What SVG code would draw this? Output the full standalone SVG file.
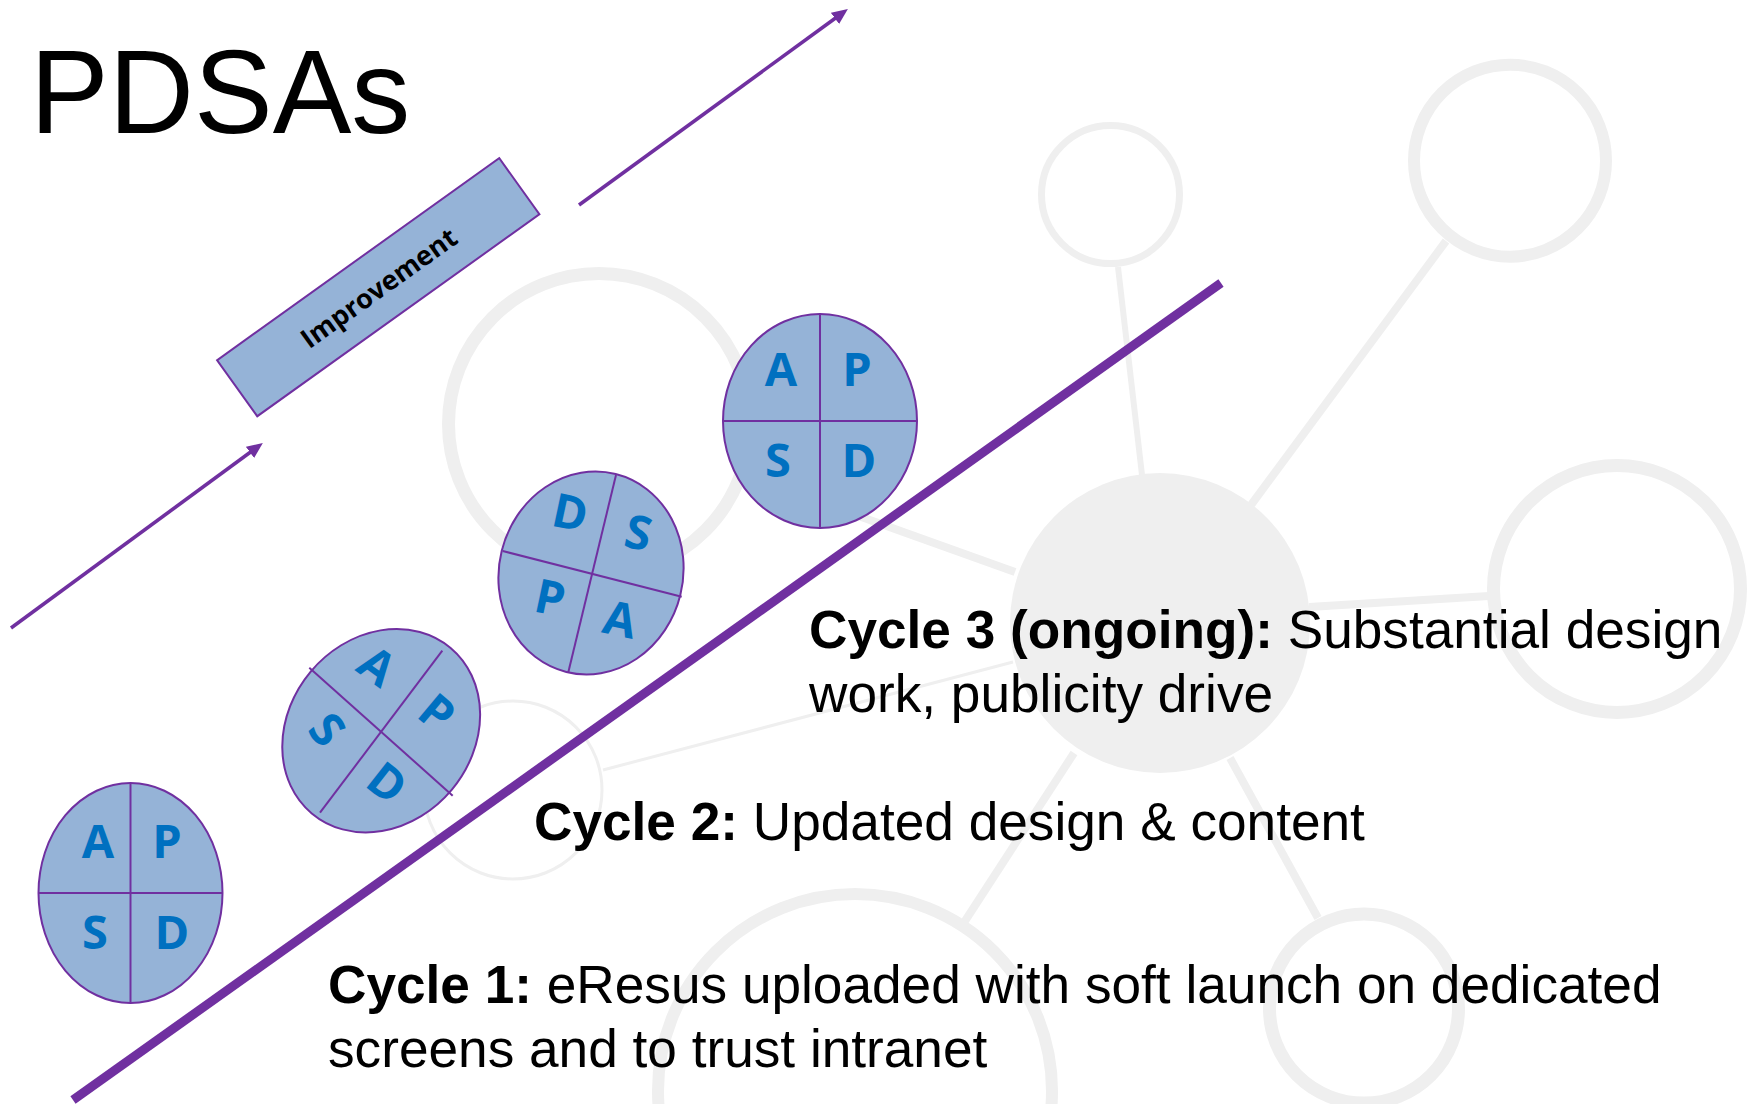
<svg xmlns="http://www.w3.org/2000/svg" width="1756" height="1104" viewBox="0 0 1756 1104">
<style>
.bgr{fill:none;stroke:#EFEFEF}
.bgl{stroke:#EFEFEF}
.pdsa{fill:#95B3D7;stroke:#7030A0;stroke-width:2}
.div{stroke:#7030A0;stroke-width:2}
.ltr{font-family:"Open Sans","Liberation Sans",sans-serif;font-weight:700;font-size:47px;fill:#0070C0;text-anchor:middle}
.cyc{font-family:"Liberation Sans",Arial,sans-serif;font-size:53.2px;fill:#000}
.arr{stroke:#7030A0;stroke-width:3.6;fill:none}
</style>
<defs>
<marker id="ah" markerUnits="userSpaceOnUse" markerWidth="18" markerHeight="16" refX="5" refY="7" orient="auto">
<path d="M0,0 L16,7 L0,14 z" fill="#7030A0"/>
</marker>
</defs>
<rect width="1756" height="1104" fill="#fff"/>
<g id="background">
<line class="bgl" x1="1118" y1="267" x2="1142" y2="475" stroke-width="6"/>
<line class="bgl" x1="1446" y1="241" x2="1251" y2="505" stroke-width="8"/>
<line class="bgl" x1="1309" y1="607" x2="1489" y2="596" stroke-width="8"/>
<line class="bgl" x1="747" y1="476" x2="1015" y2="572" stroke-width="8"/>
<line class="bgl" x1="603" y1="770" x2="1013" y2="662" stroke-width="3"/>
<line class="bgl" x1="1074" y1="753" x2="965" y2="921" stroke-width="8"/>
<line class="bgl" x1="1230" y1="758" x2="1318" y2="918" stroke-width="8"/>
<circle cx="1160" cy="623" r="150" fill="#EFEFEF"/>
<circle class="bgr" cx="599" cy="424" r="150.5" stroke-width="13"/>
<circle class="bgr" cx="1110.5" cy="194.6" r="69" stroke-width="7"/>
<circle class="bgr" cx="1510" cy="160.7" r="96" stroke-width="12"/>
<circle class="bgr" cx="1617" cy="589" r="123.5" stroke-width="13"/>
<circle class="bgr" cx="855" cy="1091" r="197" stroke-width="12"/>
<circle class="bgr" cx="1364" cy="1008.6" r="94.5" stroke-width="13"/>
<circle class="bgr" cx="513" cy="790" r="89" stroke-width="3"/>
</g>
<text id="title" x="30" y="133" font-family="Liberation Sans, Arial, sans-serif" font-size="118" fill="#000">PDSAs</text>
<g id="connectors">
<line class="arr" x1="579" y1="205" x2="839" y2="15.5" marker-end="url(#ah)"/>
<line class="arr" x1="11" y1="628" x2="254" y2="449.5" marker-end="url(#ah)"/>
<line x1="73" y1="1100" x2="1221" y2="283" stroke="#7030A0" stroke-width="9"/>
</g>
<g id="improvement">
<rect x="204.75" y="252.7" width="347" height="69" transform="rotate(-35.6 378.25 287.2)" class="pdsa"/>
<text x="378.25" y="287.2" transform="rotate(-35.6 378.25 287.2)" font-family="Open Sans, Liberation Sans, sans-serif" font-weight="700" font-size="27" text-anchor="middle" dominant-baseline="central" fill="#000">Improvement</text>
</g>
<g id="pdsa1">
<ellipse class="pdsa" cx="130.5" cy="893" rx="92" ry="110"/>
<line class="div" x1="130.5" y1="783" x2="130.5" y2="1003"/>
<line class="div" x1="38.5" y1="893" x2="222.5" y2="893"/>
<text class="ltr" x="98" y="858">A</text>
<text class="ltr" x="167" y="858">P</text>
<text class="ltr" x="95" y="949">S</text>
<text class="ltr" x="172" y="949">D</text>
</g>
<g id="pdsa2">
<ellipse class="pdsa" cx="381.2" cy="730.7" rx="92" ry="108" transform="rotate(40 381.2 730.7)"/>
<line class="div" x1="309.3" y1="667.7" x2="452.7" y2="795.7"/>
<line class="div" x1="442.3" y1="650.7" x2="320" y2="812.7"/>
<text class="ltr" x="376.7" y="682.7" transform="rotate(36 376.7 666.7)">A</text>
<text class="ltr" x="436.7" y="729.3" transform="rotate(40 436.7 713.3)">P</text>
<text class="ltr" x="326.7" y="746" transform="rotate(50 326.7 730)">S</text>
<text class="ltr" x="386.7" y="799.3" transform="rotate(38 386.7 783.3)">D</text>
</g>
<g id="pdsa3">
<ellipse class="pdsa" cx="591" cy="573" rx="92" ry="102" transform="rotate(14 591 573)"/>
<line class="div" x1="616" y1="475" x2="568.3" y2="672.3"/>
<line class="div" x1="502.7" y1="551" x2="681.7" y2="596.7"/>
<text class="ltr" x="570" y="529.3" transform="rotate(12 570 513.3)">D</text>
<text class="ltr" x="638.3" y="549.3" transform="rotate(12 638.3 533.3)">S</text>
<text class="ltr" x="550" y="614.3" transform="rotate(12 550 598.3)">P</text>
<text class="ltr" x="620" y="636" transform="rotate(12 620 620)">A</text>
</g>
<g id="pdsa4">
<ellipse class="pdsa" cx="820" cy="421" rx="97" ry="107"/>
<line class="div" x1="820" y1="314" x2="820" y2="528"/>
<line class="div" x1="723" y1="421" x2="917" y2="421"/>
<text class="ltr" x="781" y="386">A</text>
<text class="ltr" x="857" y="386">P</text>
<text class="ltr" x="778" y="477">S</text>
<text class="ltr" x="859" y="477">D</text>
</g>
<g id="cycle3">
<text class="cyc" x="809" y="648"><tspan font-weight="bold">Cycle 3 (ongoing):</tspan> Substantial design</text>
<text class="cyc" x="809" y="712">work, publicity drive</text>
</g>
<g id="cycle2">
<text class="cyc" x="534" y="840"><tspan font-weight="bold">Cycle 2:</tspan> Updated design &amp; content</text>
</g>
<g id="cycle1">
<text class="cyc" x="328" y="1003"><tspan font-weight="bold">Cycle 1:</tspan> eResus uploaded with soft launch on dedicated</text>
<text class="cyc" x="328" y="1067">screens and to trust intranet</text>
</g>
</svg>
